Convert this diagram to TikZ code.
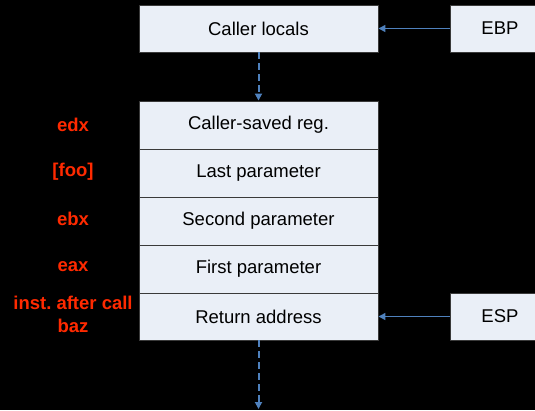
\documentclass[tikz,border=0pt]{standalone}
\usepackage{fontspec}
\setmainfont{Liberation Sans}
\usetikzlibrary{arrows.meta}
\frenchspacing
\definecolor{cellfill}{HTML}{EAEFF7}
\definecolor{cellline}{HTML}{3A3A3A}
\definecolor{ptrblue}{HTML}{4F81BD}
\definecolor{regred}{HTML}{FF2A00}
\begin{document}
\begin{tikzpicture}[x=1pt,y=-1pt,
  cell/.style={draw=cellline,fill=cellfill,line width=0.9pt,minimum width=239pt,minimum height=48pt,
    inner sep=0pt,font=\fontsize{18.5}{20}\selectfont,text=black},
  regbox/.style={draw=cellline,fill=cellfill,line width=0.9pt,minimum width=100pt,minimum height=47pt,
    inner sep=0pt,font=\fontsize{18.5}{20}\selectfont,text=black},
  lbl/.style={text=regred,font=\bfseries\fontsize{18.5}{23}\selectfont,align=center,inner sep=0pt},
  ptr/.style={draw=ptrblue,line width=1.4pt,-{Triangle[length=7pt,width=7pt]}},
  growarrow/.style={ptr,line width=2pt,dash pattern=on 7pt off 4pt}]
\fill[black] (0,0) rectangle (535,410);
\useasboundingbox (0,0) rectangle (535,410);
\clip (0,0) rectangle (535,410);

% frame pointer side
\node[cell,minimum height=47pt] (locals) at (258.5,28.5) {Caller locals};
\node[regbox] (ebp) at (500,28.5) {EBP};

% stack frame cells, top to bottom
\node[cell] (saved) at (258.5,125) {Caller-saved reg.};
\node[cell] (last) at (258.5,173) {Last parameter};
\node[cell] (second) at (258.5,221) {Second parameter};
\node[cell] (first) at (258.5,269) {First parameter};
\node[cell,minimum height=47pt] (ret) at (258.5,316.5) {Return address};
\node[regbox] (esp) at (500,316.5) {ESP};

% register / value annotations
\node[lbl] (ledx) at (73,125) {edx};
\node[lbl] (lfoo) at (73,172) {[foo]};
\node[lbl] (lebx) at (73,219) {ebx};
\node[lbl] (leax) at (73,267) {eax};
\node[lbl] (lret) at (73,314) {inst. after call\\baz};

% pointers
\draw[ptr] (ebp.west) -- (locals.east);
\draw[ptr] (esp.west) -- (ret.east);

% stack growth
\coordinate (below) at (258.5,409);
\draw[growarrow] (locals.south) -- (saved.north);
\draw[growarrow] (ret.south) -- (below);
\end{tikzpicture}
\end{document}
